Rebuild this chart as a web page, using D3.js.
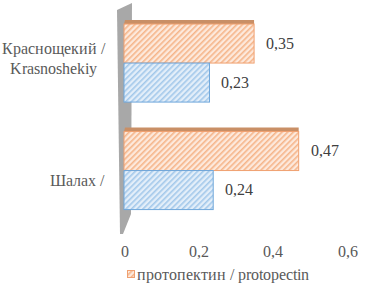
<!DOCTYPE html>
<html><head><meta charset="utf-8">
<script src="https://cdn.jsdelivr.net/npm/d3@7"></script>
<style>
@font-face {
  font-family: "ChartSerif";
  src: local("Liberation Serif"), local("LiberationSerif"), local("Liberation Serif Regular"), local("Tinos"), local("Times New Roman");
  font-display: swap;
}
</style>
</head><body style="margin:0">
<svg id="c" width="390" height="285" style="display:block;background:#fff"></svg>
<script>
const categories = ["Краснощекий / Krasnoshekiy", "Шалах /"];
const categoryLines = [["Краснощекий /", "Krasnoshekiy"], ["Шалах /"]];
const seriesNames = ["протопектин / protopectin", "пектин / pectin"];
const protopectin = [0.35, 0.47];
const pectin = [0.23, 0.24];
const xTicks = [0, 0.2, 0.4, 0.6];

const svg = d3.select("#c");
const txt = "#595959";
const FF = '"ChartSerif", "Times New Roman", serif';
const FS = "16px";

const x = d3.scaleLinear().domain([0, 0.6]).range([124, 347]);
const y0 = d3.scaleBand().domain(categories).range([9.3, 224.3]).paddingInner(0.274).paddingOuter(0.137);
const y1 = d3.scaleBand().domain(seriesNames).range([0, y0.bandwidth()]);

const defs = svg.append("defs");
function hatch(id, bg, fg) {
  const p = defs.append("pattern").attr("id", id).attr("patternUnits", "userSpaceOnUse")
    .attr("width", 4).attr("height", 4).attr("patternTransform", "rotate(45)");
  p.append("rect").attr("width", 4).attr("height", 4).attr("fill", bg);
  p.append("rect").attr("width", 1.6).attr("height", 4).attr("fill", fg);
}
hatch("hO", "#fde9dc", "#f5b58a");
hatch("hB", "#e3eef9", "#a3c8ea");

// wall
svg.append("polygon")
  .attr("points", "117,10 132,3 131,214 123,234 120,234")
  .attr("fill", "#a8a8a8");

const series = [
  {name: seriesNames[0], values: protopectin, fill: "url(#hO)", stroke: "#f0a070", top: "#c98f66", showTop: true},
  {name: seriesNames[1], values: pectin, fill: "url(#hB)", stroke: "#6fa7db", top: "#8fb4d8", showTop: false}
];

function label(sel) {
  return sel.style("font-family", FF).style("font-size", FS);
}

const depth = 4;
series.forEach(s => {
  const g = svg.append("g");
  categories.forEach((c, i) => {
    const v = s.values[i];
    const yy = y0(c) + y1(s.name);
    const h = y1.bandwidth();
    const x0 = x(0), x1 = x(v);
    if (s.showTop) {
      g.append("polygon")
        .attr("points", `${x0},${yy} ${x1},${yy} ${x1},${yy - depth} ${x0 + 1},${yy - depth}`)
        .attr("fill", s.top);
    }
    g.append("rect").attr("x", x0).attr("y", yy).attr("width", x1 - x0).attr("height", h)
      .attr("fill", s.fill).attr("stroke", s.stroke).attr("stroke-width", 1);
    label(svg.append("text")).attr("x", x1 + 12).attr("y", yy + h / 2 + 5)
      .attr("fill", "#404040").text(String(v).replace(".", ","));
  });
});

// category labels
categories.forEach((c, i) => {
  const lines = categoryLines[i];
  const cy = y0(c) + y0.bandwidth() / 2;
  const lh = 20;
  lines.forEach((l, j) => {
    label(svg.append("text"))
      .attr("x", lines.length > 1 ? 53 : 104)
      .attr("text-anchor", lines.length > 1 ? "middle" : "end")
      .attr("y", cy + 1 + (j - (lines.length - 1) / 2) * lh + (lines.length > 1 ? 0 : 14))
      .attr("fill", txt).text(l);
  });
});

// x axis
const ax = svg.append("g").attr("transform", "translate(0,243)")
  .call(d3.axisBottom(x).tickValues(xTicks).tickSize(0).tickPadding(0)
    .tickFormat(d => d === 0 ? "0" : String(d).replace(".", ",")));
ax.select(".domain").remove();
ax.attr("font-family", null).attr("font-size", null);
label(ax.selectAll("text")).attr("fill", txt).attr("dy", null).attr("y", 14);

// legend
const lg = svg.append("g");
lg.append("rect").attr("x", 127.5).attr("y", 270.5).attr("width", 7).attr("height", 7)
  .attr("fill", "url(#hO)").attr("stroke", "#f0a070");
label(lg.append("text")).attr("x", 137).attr("y", 280)
  .attr("fill", txt).text(seriesNames[0]);
</script>
</body></html>
